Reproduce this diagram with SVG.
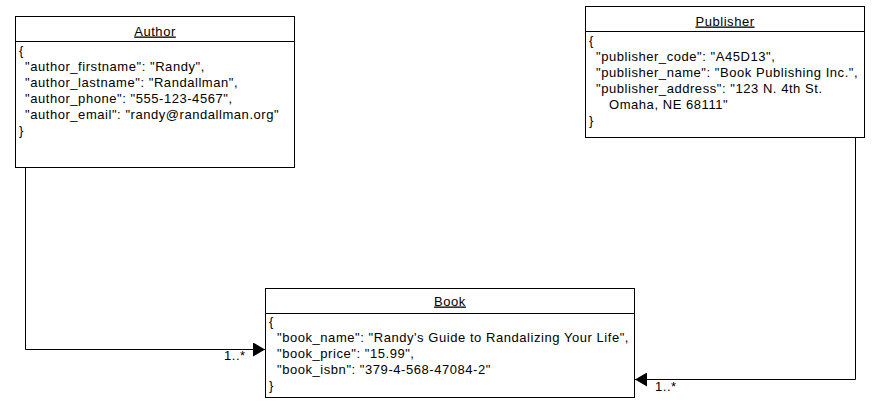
<svg xmlns="http://www.w3.org/2000/svg" width="881" height="411" viewBox="0 0 881 411">
<style>
text{font-family:"Liberation Sans",Arial,sans-serif;font-size:13px;letter-spacing:0.55px;fill:#000}
.t{text-anchor:middle;text-decoration:underline}
.box{fill:#fff;stroke:#000;stroke-width:1}
.ln{fill:none;stroke:#000;stroke-width:1}
</style>
<defs>
<marker id="arr" markerWidth="12" markerHeight="14" refX="12" refY="7" orient="auto" markerUnits="userSpaceOnUse">
<path d="M0,0 L12,7 L0,14 Z" fill="#000"/>
</marker>
</defs>
<rect width="881" height="411" fill="#fff"/>
<g id="connectors">
<polyline class="ln" points="25.5,167 25.5,349.5 265,349.5" marker-end="url(#arr)"/>
<text x="224" y="360">1..*</text>
<polyline class="ln" points="855.5,137 855.5,379.5 635,379.5" marker-end="url(#arr)"/>
<text x="655" y="391">1..*</text>
</g>
<g id="author">
<rect class="box" x="15.5" y="16.5" width="279" height="151"/>
<line class="ln" x1="15.5" y1="41.5" x2="294.5" y2="41.5"/>
<text class="t" x="155" y="35.5">Author</text>
<text x="19" y="55">{</text>
<text x="25" y="71">"author_firstname": "Randy",</text>
<text x="25" y="87">"author_lastname": "Randallman",</text>
<text x="25" y="103">"author_phone": "555-123-4567",</text>
<text x="25" y="119">"author_email": "randy@randallman.org"</text>
<text x="19" y="135">}</text>
</g>
<g id="publisher">
<rect class="box" x="585.5" y="6.5" width="279" height="131"/>
<line class="ln" x1="585.5" y1="31.5" x2="864.5" y2="31.5"/>
<text class="t" x="725" y="25.5">Publisher</text>
<text x="589" y="45">{</text>
<text x="596" y="61">"publisher_code": "A45D13",</text>
<text x="596" y="77">"publisher_name": "Book Publishing Inc.",</text>
<text x="596" y="93">"publisher_address": "123 N. 4th St.</text>
<text x="609" y="109">Omaha, NE 68111"</text>
<text x="589" y="125">}</text>
</g>
<g id="book">
<rect class="box" x="265.5" y="288.5" width="369" height="109"/>
<line class="ln" x1="265.5" y1="313.5" x2="634.5" y2="313.5"/>
<text class="t" x="450" y="305.5">Book</text>
<text x="269" y="326">{</text>
<text x="277" y="342">"book_name": "Randy's Guide to Randalizing Your Life",</text>
<text x="277" y="358">"book_price": "15.99",</text>
<text x="277" y="374">"book_isbn": "379-4-568-47084-2"</text>
<text x="269" y="390">}</text>
</g>
</svg>
